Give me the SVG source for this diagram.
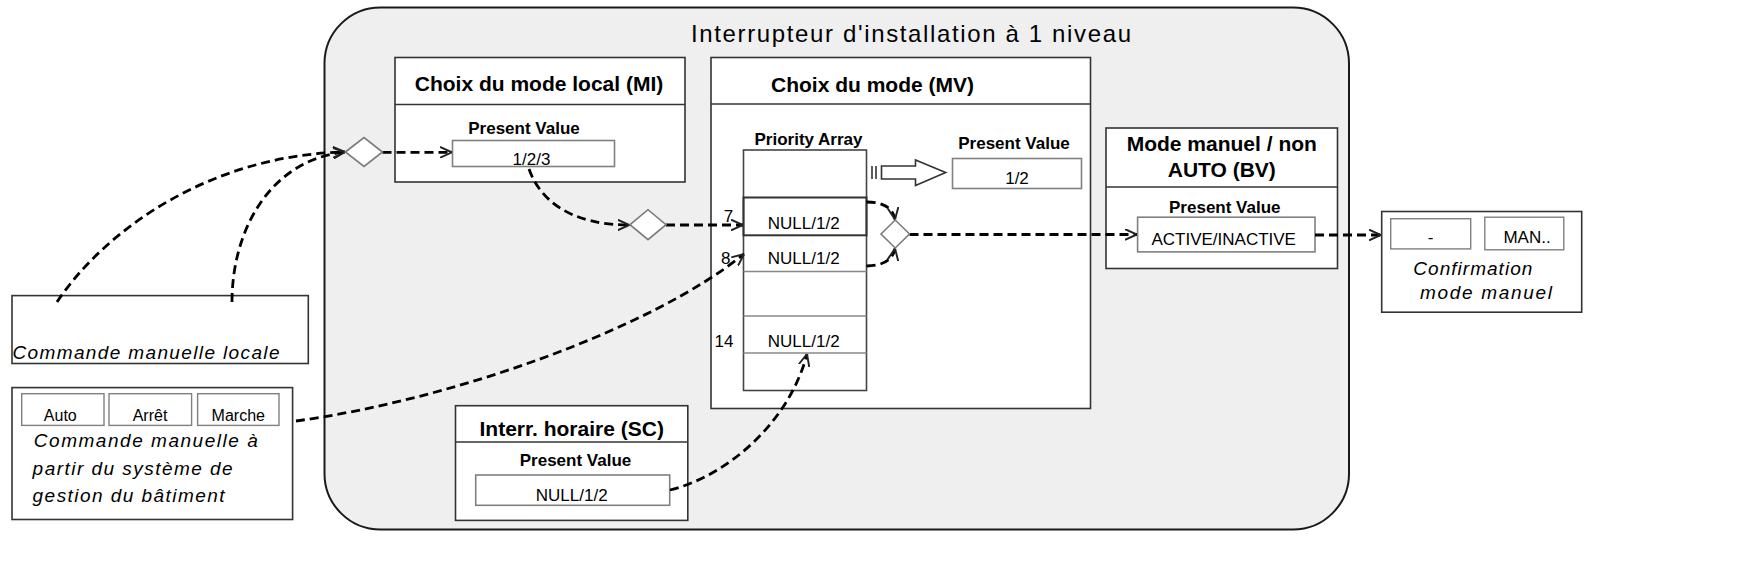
<svg xmlns="http://www.w3.org/2000/svg" width="1738" height="587" viewBox="0 0 1738 587">
<defs>
<style>
.outer{fill:#efefef;stroke:#1a1a1a;stroke-width:2}
.box{fill:#fff;stroke:#333;stroke-width:1.6}
.vbox{fill:#fff;stroke:#808080;stroke-width:1.6}
.btn{fill:#fff;stroke:#808080;stroke-width:1.4}
.hdr{stroke:#333;stroke-width:1.6}
.cell{stroke:#888;stroke-width:1.4}
.arr{fill:#fff;stroke:#444;stroke-width:1.6}
.row7{fill:none;stroke:#333;stroke-width:2}
.dia{fill:#fff;stroke:#7a7a7a;stroke-width:1.6}
.conn{fill:none;stroke:#000;stroke-width:2.8;stroke-dasharray:9 5;marker-end:url(#ah)}
.t{font-family:"Liberation Sans",Arial,sans-serif;fill:#000}
.title{font-size:21px;font-weight:bold;text-anchor:middle}
.pv{font-size:17px;font-weight:bold;text-anchor:middle}
.val{font-size:17px;text-anchor:middle}
.it{font-size:19px;font-style:italic}
.bt{font-size:16px;text-anchor:middle}
</style>
<marker id="ah" viewBox="0 0 10 10" refX="10" refY="5" markerWidth="12" markerHeight="12" markerUnits="userSpaceOnUse" orient="auto">
<path d="M0,0.5 L10,5 L0,9.5" fill="none" stroke="#222" stroke-width="1.6"/>
</marker>
</defs>
<rect width="1738" height="587" fill="#fff"/>

<g id="container">
<rect class="outer" x="324.5" y="7.5" width="1024.5" height="522" rx="56"/>
<text class="t" x="691" y="42" font-size="24" textLength="440">Interrupteur d'installation à 1 niveau</text>
</g>

<g id="node-mi">
<rect class="box" x="395" y="57.5" width="290" height="124.5"/>
<line class="hdr" x1="395" y1="104.5" x2="685" y2="104.5"/>
<text class="t title" x="539" y="91">Choix du mode local (MI)</text>
<text class="t pv" x="524" y="133.5">Present Value</text>
<rect class="vbox" x="452.5" y="140.5" width="162" height="26"/>
<text class="t val" x="531.5" y="165">1/2/3</text>
</g>

<g id="node-mv">
<rect class="box" x="711" y="57.5" width="379.5" height="351"/>
<line class="hdr" x1="711" y1="104" x2="1090.5" y2="104"/>
<text class="t title" x="872.5" y="92">Choix du mode (MV)</text>
<text class="t pv" x="808.5" y="145">Priority Array</text>
<rect class="arr" x="743.5" y="150" width="123" height="240.5"/>
<line class="cell" x1="743.5" y1="271.5" x2="866.5" y2="271.5"/>
<line class="cell" x1="743.5" y1="316" x2="866.5" y2="316"/>
<line class="cell" x1="743.5" y1="353" x2="866.5" y2="353"/>
<rect class="row7" x="743.5" y="197.5" width="123" height="37.8"/>
<text class="t val" x="803.7" y="229.3">NULL/1/2</text>
<text class="t val" x="803.7" y="264">NULL/1/2</text>
<text class="t val" x="803.7" y="347">NULL/1/2</text>
<text class="t val" x="728.5" y="221.7">7</text>
<text class="t val" x="725.8" y="264">8</text>
<text class="t val" x="724" y="347">14</text>
<text class="t pv" x="1014" y="148.5">Present Value</text>
<rect class="vbox" x="952.5" y="158.5" width="129" height="30"/>
<text class="t val" x="1017" y="184">1/2</text>
<line x1="872" y1="166" x2="872" y2="179" stroke="#333" stroke-width="1.6"/>
<line x1="876" y1="166" x2="876" y2="179" stroke="#333" stroke-width="1.6"/>
<path d="M881.5,166 L915.5,166 L915.5,160 L945.7,172.6 L915.5,185.5 L915.5,179 L881.5,179 Z" fill="#fff" stroke="#333" stroke-width="1.6"/>
</g>

<g id="node-bv">
<rect class="box" x="1106" y="128" width="231.5" height="140.5"/>
<line class="hdr" x1="1106" y1="187" x2="1337.5" y2="187"/>
<text class="t title" x="1221.8" y="151">Mode manuel / non</text>
<text class="t title" x="1221.8" y="176.5">AUTO (BV)</text>
<text class="t pv" x="1224.8" y="212.7">Present Value</text>
<rect class="vbox" x="1137.6" y="217.2" width="177.4" height="34.7"/>
<text class="t val" x="1223.7" y="245">ACTIVE/INACTIVE</text>
</g>

<g id="node-sc">
<rect class="box" x="455.5" y="405.7" width="232.3" height="114.7"/>
<line class="hdr" x1="455.5" y1="442" x2="687.8" y2="442"/>
<text class="t title" x="571.7" y="436">Interr. horaire (SC)</text>
<text class="t pv" x="575.5" y="466">Present Value</text>
<rect class="vbox" x="475.7" y="475" width="194" height="30.3"/>
<text class="t val" x="571.7" y="500.8">NULL/1/2</text>
</g>

<g id="node-local">
<rect class="box" x="12" y="295.6" width="296.3" height="67.9"/>
<text class="t it" x="12.5" y="359" textLength="267">Commande manuelle locale</text>
</g>

<g id="node-gtb">
<rect class="box" x="12" y="387.6" width="280.6" height="131.9"/>
<rect class="btn" x="21.7" y="393.7" width="82.3" height="31.7"/>
<rect class="btn" x="109" y="393.7" width="82.6" height="31.7"/>
<rect class="btn" x="197.6" y="393.7" width="81.4" height="31.7"/>
<text class="t bt" x="60.3" y="420.8">Auto</text>
<text class="t bt" x="150" y="420.8">Arrêt</text>
<text class="t bt" x="238.3" y="420.8">Marche</text>
<text class="t it" x="33.8" y="446.5" textLength="224">Commande manuelle à</text>
<text class="t it" x="32.6" y="475" textLength="200">partir du système de</text>
<text class="t it" x="32.6" y="502.3" textLength="192">gestion du bâtiment</text>
</g>

<g id="node-confirm">
<rect class="box" x="1381.7" y="211.5" width="200" height="100.7"/>
<rect class="btn" x="1390.7" y="218.7" width="80" height="30.2"/>
<rect class="btn" x="1484.8" y="217.2" width="79" height="32.6"/>
<text class="t val" x="1430.5" y="242.8">-</text>
<text class="t val" x="1527" y="242.8">MAN..</text>
<text class="t it" x="1413.3" y="274.5" textLength="119">Confirmation</text>
<text class="t it" x="1420" y="298.7" textLength="132">mode manuel</text>
</g>

<g id="connectors">
<path class="conn" d="M57,302 C105,230 210,155 345,152"/>
<path class="conn" d="M232,302 C232,230 270,160 345,152"/>
<path class="conn" d="M382.5,152.3 L452,152.3"/>
<path class="conn" d="M529,169 C540,200 570,225 629.5,225"/>
<path class="conn" d="M666,225 L743,225"/>
<path class="conn" d="M296,421 C450,400 650,330 744,254"/>
<path class="conn" d="M670,490 C730,475 790,420 807,354"/>
<path class="conn" d="M866.5,202 C882,202 893,207 895,219.5"/>
<path class="conn" d="M866.5,266 C882,266 893,260 895,248.5"/>
<path class="conn" d="M909.5,234.5 L1137,234.5"/>
<path class="conn" d="M1315,235 L1381,235"/>
<polygon id="j1" class="dia" points="345.4,152 364,137.5 382.5,152 364,166.5"/>
<polygon id="j2" class="dia" points="630,224.7 648,209.7 666,224.7 648,239.7"/>
<polygon id="j3" class="dia" points="881,234 895.2,220 909.5,234 895.2,248"/>
</g>
</svg>
